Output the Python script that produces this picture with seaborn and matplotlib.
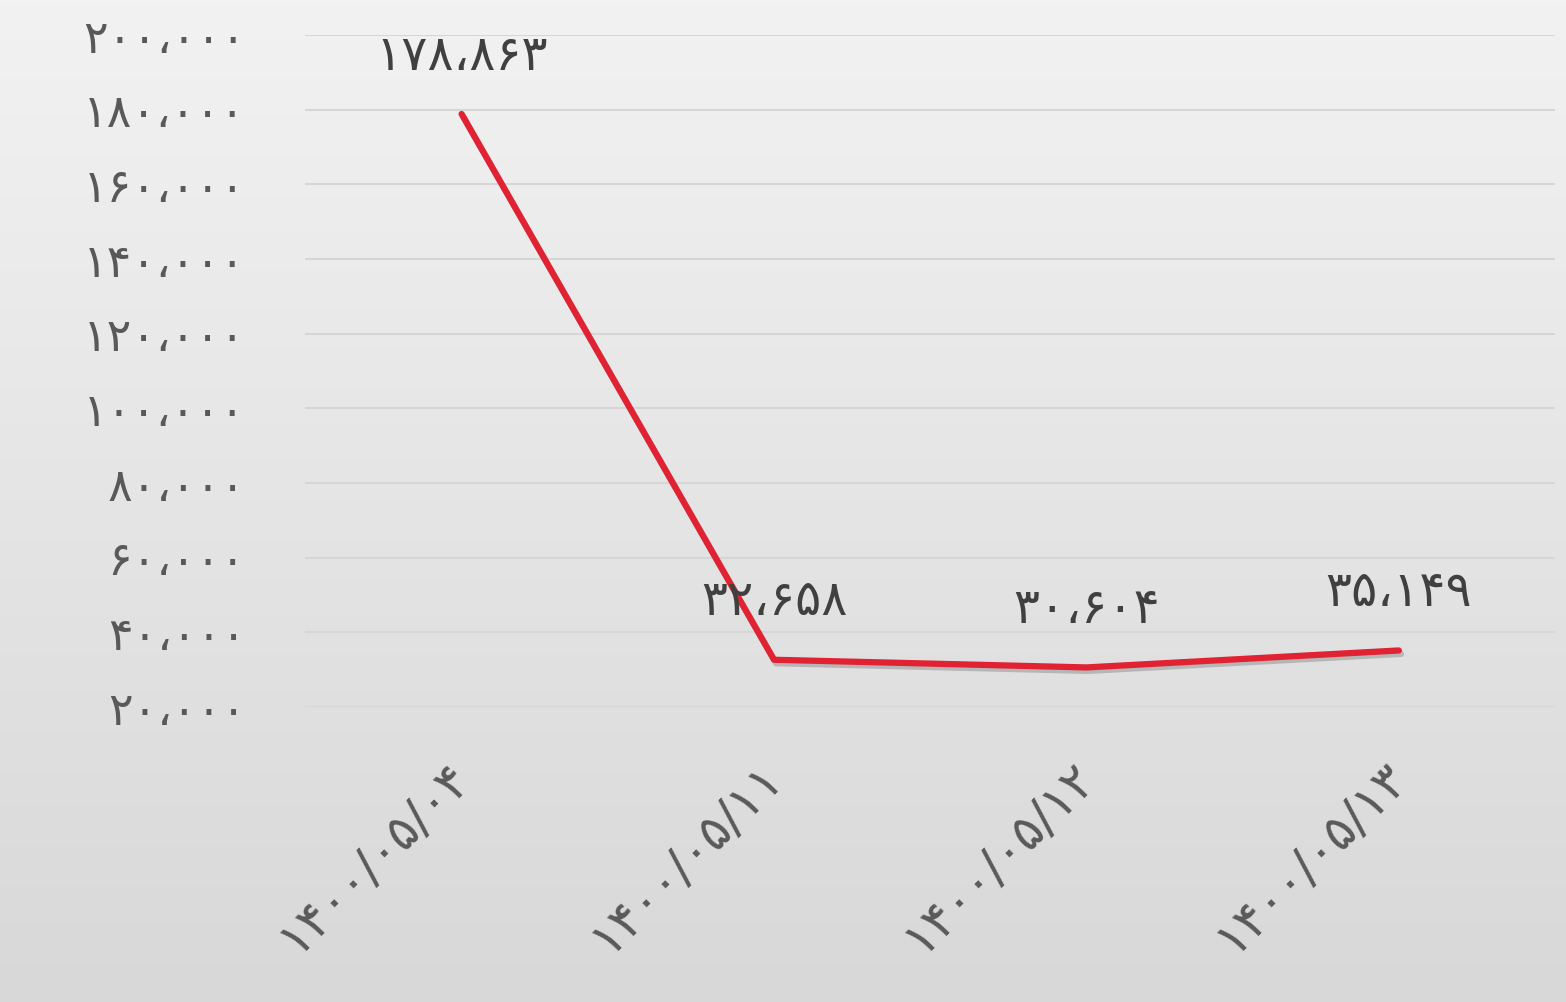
import numpy as np
import pandas as pd
import matplotlib
matplotlib.use('Agg')
import matplotlib.pyplot as plt
import matplotlib.patheffects as pe
import seaborn as sns

dates = ['۱۴۰۰/۰۵/۰۴', '۱۴۰۰/۰۵/۱۱', '۱۴۰۰/۰۵/۱۲', '۱۴۰۰/۰۵/۱۳']
values = [178863, 32658, 30604, 35149]
value_labels = ['۱۷۸،۸۶۳', '۳۲،۶۵۸', '۳۰،۶۰۴', '۳۵،۱۴۹']
y_ticks = [20000, 40000, 60000, 80000, 100000, 120000, 140000, 160000, 180000, 200000]
y_tick_labels = ['۲۰،۰۰۰', '۴۰،۰۰۰', '۶۰،۰۰۰', '۸۰،۰۰۰', '۱۰۰،۰۰۰',
                 '۱۲۰،۰۰۰', '۱۴۰،۰۰۰', '۱۶۰،۰۰۰', '۱۸۰،۰۰۰', '۲۰۰،۰۰۰']

df = pd.DataFrame({'date': dates, 'value': values})

sns.set_style('white')
plt.rcParams['font.family'] = ['DejaVu Sans']

fig = plt.figure(figsize=(15.66, 10.02), dpi=100)

# gradient background
bg = fig.add_axes([0, 0, 1, 1], zorder=0)
grad = np.linspace(0, 1, 256).reshape(-1, 1)
bg.imshow(grad, aspect='auto', cmap=matplotlib.colors.LinearSegmentedColormap.from_list(
    'bg', ['#f2f2f2', '#d8d8d8']), extent=[0, 1, 0, 1])
bg.axis('off')

ax = fig.add_axes([0.195, 0.2944, 0.798, 0.6706], zorder=1)
ax.patch.set_alpha(0)

sns.lineplot(data=df, x='date', y='value', ax=ax, color='#e02232', linewidth=4.5,
             sort=False,
             path_effects=[pe.SimpleLineShadow(offset=(1.5, -2.5), alpha=0.3, shadow_color='#555555'),
                           pe.Normal()])

for i, (v, lab) in enumerate(zip(values, value_labels)):
    ax.annotate(lab, (i, v), xytext=(0, 42), textcoords='offset points',
                ha='center', va='center', fontsize=35, color='#404040')

ax.set_xlim(-0.5, 3.5)
ax.set_ylim(20000, 200000)
ax.set_yticks(y_ticks)
ax.set_yticklabels(y_tick_labels, fontsize=33, color='#595959')
ax.set_xticks(range(len(dates)))
ax.set_xticklabels(dates, rotation=45, ha='right', va='center', rotation_mode='anchor',
                   fontsize=36, color='#595959')
ax.tick_params(axis='y', length=0, pad=43)
ax.tick_params(axis='x', length=0, pad=45)
ax.grid(axis='y', color='#d6d6d6', linewidth=1.5)
ax.set_axisbelow(True)
sns.despine(ax=ax, left=True, bottom=True)
ax.set_xlabel('')
ax.set_ylabel('')

plt.savefig('out.png', dpi=100)
